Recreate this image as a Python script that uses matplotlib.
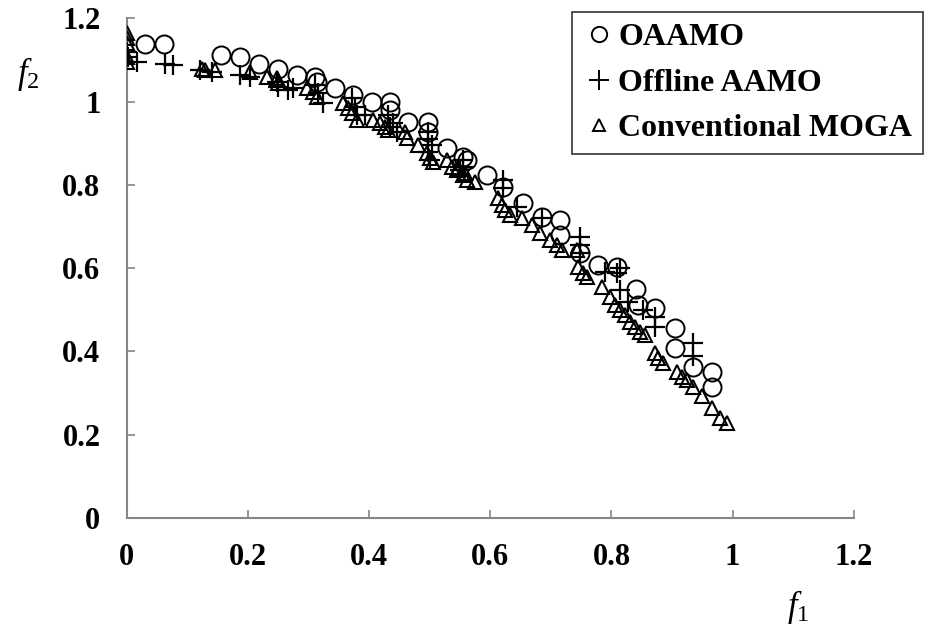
import matplotlib
matplotlib.use("Agg")
import matplotlib.pyplot as plt
from matplotlib.lines import Line2D

# OAAMO (circles)
oaamo_f1 = [0.03, 0.061, 0.155, 0.187, 0.218, 0.249, 0.281, 0.31, 0.314, 0.343, 0.373,
            0.404, 0.434, 0.434, 0.464, 0.497, 0.497, 0.528, 0.555, 0.561, 0.594, 0.621,
            0.654, 0.685, 0.715, 0.715, 0.748, 0.777, 0.809, 0.841, 0.844, 0.872, 0.905,
            0.905, 0.934, 0.966, 0.966]
oaamo_f2 = [1.137, 1.137, 1.111, 1.106, 1.091, 1.079, 1.063, 1.058, 1.046, 1.032, 1.015,
            0.998, 0.998, 0.979, 0.95, 0.95, 0.926, 0.888, 0.866, 0.859, 0.823, 0.794,
            0.756, 0.722, 0.715, 0.679, 0.636, 0.607, 0.602, 0.551, 0.511, 0.504, 0.456,
            0.408, 0.362, 0.35, 0.314]

# Offline AAMO (plus)
offline_f1 = [0.0, 0.002, 0.017, 0.063, 0.076, 0.12, 0.14, 0.187, 0.203, 0.248, 0.249,
              0.266, 0.274, 0.31, 0.315, 0.324, 0.371, 0.376, 0.38, 0.393, 0.431, 0.439,
              0.434, 0.446, 0.497, 0.497, 0.503, 0.497, 0.5, 0.55, 0.555, 0.555, 0.621,
              0.621, 0.644, 0.685, 0.748, 0.748, 0.748, 0.789, 0.809, 0.814, 0.814, 0.827,
              0.852, 0.872, 0.872, 0.934, 0.934]
offline_f2 = [1.118, 1.106, 1.094, 1.091, 1.087, 1.075, 1.07, 1.063, 1.058, 1.046, 1.034,
              1.027, 1.032, 1.039, 1.02, 0.996, 1.008, 0.986, 0.967, 0.967, 0.967, 0.948,
              0.938, 0.926, 0.926, 0.91, 0.895, 0.878, 0.859, 0.835, 0.859, 0.842, 0.811,
              0.792, 0.746, 0.72, 0.674, 0.655, 0.636, 0.59, 0.588, 0.6, 0.547, 0.518,
              0.5, 0.482, 0.459, 0.42, 0.39]

# Conventional MOGA (triangles)
moga_f1 = [0.0, 0.0, 0.0, 0.0, 0.0, 0.124, 0.129, 0.145, 0.203, 0.231, 0.248, 0.249,
           0.297, 0.307, 0.314, 0.357, 0.365, 0.371, 0.38, 0.406, 0.418, 0.426, 0.431,
           0.459, 0.462, 0.48, 0.495, 0.5, 0.505, 0.528, 0.536, 0.545, 0.555, 0.561,
           0.546, 0.558, 0.574, 0.612, 0.619, 0.624, 0.632, 0.652, 0.668, 0.682, 0.698,
           0.71, 0.718, 0.743, 0.745, 0.753, 0.759, 0.784, 0.797, 0.806, 0.814, 0.822,
           0.83, 0.839, 0.847, 0.855, 0.872, 0.877, 0.885, 0.908, 0.916, 0.924, 0.934,
           0.949, 0.966, 0.979, 0.99]
moga_f2 = [1.164, 1.152, 1.14, 1.106, 1.094, 1.079, 1.075, 1.075, 1.07, 1.058, 1.056,
           1.044, 1.032, 1.022, 1.01, 0.996, 0.984, 0.972, 0.955, 0.955, 0.948, 0.938,
           0.931, 0.926, 0.912, 0.895, 0.876, 0.864, 0.854, 0.859, 0.842, 0.835, 0.823,
           0.811, 0.84, 0.828, 0.806, 0.768, 0.751, 0.739, 0.727, 0.72, 0.703, 0.684,
           0.667, 0.655, 0.643, 0.643, 0.602, 0.588, 0.578, 0.554, 0.53, 0.511, 0.5,
           0.487, 0.47, 0.459, 0.447, 0.439, 0.396, 0.384, 0.372, 0.35, 0.338, 0.331,
           0.314, 0.292, 0.264, 0.24, 0.228]

x_ticks = [0, 0.2, 0.4, 0.6, 0.8, 1, 1.2]
y_ticks = [0, 0.2, 0.4, 0.6, 0.8, 1, 1.2]
x_ticklabels = ["0", "0.2", "0.4", "0.6", "0.8", "1", "1.2"]
y_ticklabels = ["0", "0.2", "0.4", "0.6", "0.8", "1", "1.2"]

plt.rcParams['font.family'] = ['Liberation Serif', 'DejaVu Serif']
plt.rcParams['mathtext.fontset'] = 'custom'
plt.rcParams['mathtext.rm'] = 'Liberation Serif'
plt.rcParams['mathtext.it'] = 'Liberation Serif:italic'

fig = plt.figure(figsize=(9.26, 6.28), dpi=100)
ax = fig.add_axes([0.137, 0.175, 0.785, 0.796])

ax.plot(oaamo_f1, oaamo_f2, linestyle='none', marker='o', markersize=13,
        markerfacecolor='none', markeredgecolor='black', markeredgewidth=1.4, zorder=3)
ax.plot(offline_f1, offline_f2, linestyle='none', marker='+', markersize=14,
        markeredgecolor='black', markeredgewidth=1.6, zorder=4)
ax.plot(moga_f1, moga_f2, linestyle='none', marker='^', markersize=10,
        markerfacecolor='none', markeredgecolor='black', markeredgewidth=1.5, zorder=5)

ax.set_xlim(0, 1.2)
ax.set_ylim(0, 1.2)
ax.set_xticks(x_ticks)
ax.set_xticklabels(x_ticklabels)
ax.set_yticks(y_ticks)
ax.set_yticklabels(y_ticklabels)
for lab in ax.get_xticklabels() + ax.get_yticklabels():
    lab.set_fontweight('bold')
    lab.set_fontsize(22)

for s in ['top', 'right']:
    ax.spines[s].set_visible(False)
for s in ['left', 'bottom']:
    ax.spines[s].set_color('#868686')
    ax.spines[s].set_linewidth(1.5)
ax.tick_params(direction='in', length=6, width=1.2, color='#868686')
ax.tick_params(axis='x', pad=18)
ax.tick_params(axis='y', pad=19)

fig.text(0.030, 0.882, r'$f_2$', fontsize=25, ha='center', va='center')
fig.text(0.862, 0.033, r'$f_1$', fontsize=25, ha='center', va='center')

handles = [
    Line2D([], [], linestyle='none', marker='o', markersize=11, markerfacecolor='none',
           markeredgecolor='black', markeredgewidth=1.4),
    Line2D([], [], linestyle='none', marker='+', markersize=14, markeredgecolor='black',
           markeredgewidth=1.4),
    Line2D([], [], linestyle='none', marker='^', markersize=8, markerfacecolor='none',
           markeredgecolor='black', markeredgewidth=1.4),
]
labels = ["OAAMO", "Offline AAMO", "Conventional MOGA"]
leg = fig.legend(handles, labels, loc='upper right', bbox_to_anchor=(0.997, 0.981),
                 prop={'weight': 'bold', 'size': 23}, frameon=True, fancybox=False,
                 edgecolor='black', handlelength=1.0, handletextpad=0.1,
                 borderpad=0.35, labelspacing=0.5, borderaxespad=0)
leg.get_frame().set_linewidth(1.2)

fig.savefig('out.png', dpi=100)
